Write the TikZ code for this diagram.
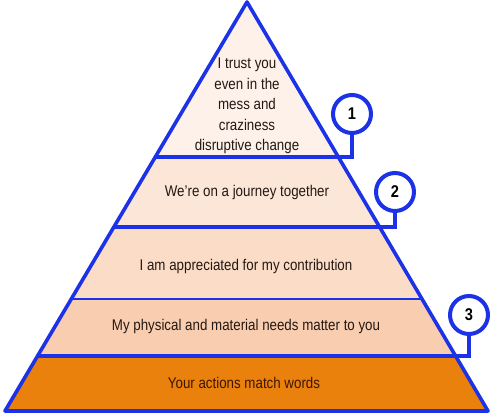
\documentclass[tikz,border=0pt]{standalone}
\usepackage{fontspec}
\setmainfont{Liberation Sans}[FakeStretch=0.86]
\usepackage{tikz}
\usetikzlibrary{calc}

\definecolor{pyrblue}{RGB}{28,50,230}
\definecolor{bandA}{RGB}{253,241,233}
\definecolor{bandB}{RGB}{252,230,215}
\definecolor{bandC}{RGB}{251,220,198}
\definecolor{bandD}{RGB}{249,205,175}
\definecolor{bandE}{RGB}{233,129,12}
\definecolor{inktext}{RGB}{35,24,20}

\tikzset{
  callout/.style={circle, draw=pyrblue, line width=4pt, fill=white, minimum size=38pt,
    inner sep=0pt, font=\bfseries\fontsize{17}{17}\selectfont},
  levelline/.style={pyrblue, line width=3.6pt},
  leveltext/.style={text=inktext, align=center}
}

\begin{document}
\begin{tikzpicture}[x=1pt, y=1pt, font=\fontsize{15.5}{20.5}\selectfont]
  \useasboundingbox (0,0) rectangle (493,414);
  \coordinate (apex) at (247,412);
  \coordinate (bl) at (5,3);
  \coordinate (br) at (488,3);
  \foreach \t/\n in {0.379/1, 0.550/2, 0.726/3, 0.866/4}{
    \coordinate (l\n) at ($(apex)!\t!(bl)$);
    \coordinate (r\n) at ($(apex)!\t!(br)$);
  }
  % bands
  \fill[bandA] (apex) -- (r1) -- (l1) -- cycle;
  \fill[bandB] (l1) -- (r1) -- (r2) -- (l2) -- cycle;
  \fill[bandC] (l2) -- (r2) -- (r3) -- (l3) -- cycle;
  \fill[bandD] (l3) -- (r3) -- (r4) -- (l4) -- cycle;
  \fill[bandE] (l4) -- (r4) -- (br) -- (bl) -- cycle;
  % labels
  \node[leveltext] (t1) at (247,308) {I trust you\\even in the\\mess and\\craziness\\disruptive change};
  \node[leveltext] (t2) at (247,222) {We’re on a journey together};
  \node[leveltext] (t3) at (246,148) {I am appreciated for my contribution};
  \node[leveltext] (t4) at (246,88) {My physical and material needs matter to you};
  \node[text={rgb,255:red,62;green,22;blue,0}] (t5) at (244,31) {Your actions match words};
  % callouts
  \node[callout] (c1) at (352,300) {1};
  \node[callout] (c2) at (395,222) {2};
  \node[callout] (c3) at (469,99) {3};
  % lines
  \draw[levelline, line width=2.2pt] (l3) -- (r3);
  \draw[levelline, line join=miter] (c1.south) |- (l1);
  \draw[levelline, line join=miter] (c2.south) |- (l2);
  \draw[levelline, line join=miter] (c3.south) |- (l4);
  \draw[levelline, line join=round] (apex) -- (br) -- (bl) -- cycle;
\end{tikzpicture}
\end{document}
